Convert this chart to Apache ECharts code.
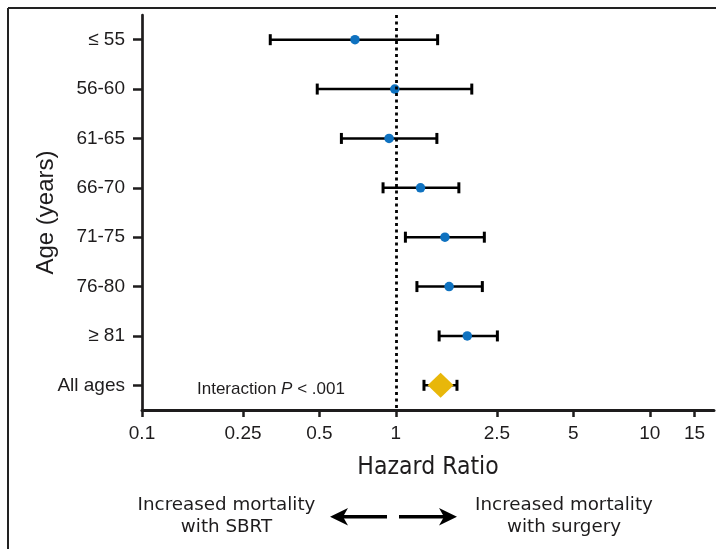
<!DOCTYPE html>
<html><head><meta charset="utf-8">
<script src="https://cdn.jsdelivr.net/npm/echarts@6/dist/echarts.min.js"></script>
<style>html,body{margin:0;padding:0;background:#fff;} #c{width:716px;height:549px;}</style>
</head><body><div id="c"></div>
<script>
// ---- data ----
const categories = ['≤ 55', '56-60', '61-65', '66-70', '71-75', '76-80', '≥ 81', 'All ages'];
const hazardRatio = [0.69, 0.99, 0.94, 1.25, 1.56, 1.62, 1.91, 1.50];
const ciLower = [0.32, 0.49, 0.61, 0.89, 1.09, 1.21, 1.48, 1.29];
const ciUpper = [1.46, 1.99, 1.45, 1.77, 2.23, 2.19, 2.51, 1.74];
const xTickValues = [0.1, 0.25, 0.5, 1, 2.5, 5, 10, 15];
const xMinValue = 0.1;
const xMaxValue = 17.9;
const referenceValue = 1;
const interactionText = ['Interaction ', 'P', ' < .001'];
const leftNote = 'Increased mortality\nwith SBRT';
const rightNote = 'Increased mortality\nwith surgery';

// ---- build ----
const L = Math.log10;
const pooledIndex = categories.length - 1;
const ink = '#1e1c1d';
const sans = "'Liberation Sans', Arial, sans-serif";
const narrow = "'Liberation Sans Narrow', 'DejaVu Sans Condensed', 'Roboto Condensed', 'Liberation Sans', sans-serif";

const ciData = categories.map((c, i) => [i, L(ciLower[i]), L(ciUpper[i])]);
const pointData = [];
categories.forEach((c, i) => { if (i !== pooledIndex) pointData.push([L(hazardRatio[i]), i]); });
const pooledData = [[L(hazardRatio[pooledIndex]), pooledIndex]];
const tickLogs = xTickValues.map(L);

const chart = echarts.init(document.getElementById('c'), null, {renderer: 'canvas'});
chart.setOption({
  animation: false,
  backgroundColor: '#fff',
  grid: {left: 142, right: 2, top: 15, bottom: 139},
  xAxis: {
    type: 'value',
    min: L(xMinValue), max: L(xMaxValue),
    name: 'Hazard Ratio', nameLocation: 'middle', nameGap: 45, nameMoveOverlap: false,
    nameTextStyle: {fontFamily: narrow, fontSize: 24.5, color: ink},
    axisLine: {show: true, onZero: false, lineStyle: {color: ink, width: 3}},
    axisTick: {show: true, length: 7, lineStyle: {color: ink, width: 2.5}, customValues: tickLogs},
    axisLabel: {
      show: true, margin: 14, fontFamily: sans, fontSize: 19, color: ink,
      customValues: tickLogs,
      formatter: v => String(parseFloat(Math.pow(10, v).toPrecision(3)))
    },
    splitLine: {show: false}
  },
  yAxis: {
    type: 'category', data: categories, inverse: true,
    name: 'Age (years)', nameLocation: 'middle', nameGap: 84, nameRotate: 90, nameMoveOverlap: false,
    nameTextStyle: {fontFamily: sans, fontSize: 24, color: ink},
    axisLine: {show: true, onZero: false, lineStyle: {color: ink, width: 2.7}},
    axisTick: {show: true, alignWithLabel: true, length: 9, lineStyle: {color: ink, width: 2.5}},
    axisLabel: {margin: 17, fontFamily: sans, fontSize: 19, color: ink},
    splitLine: {show: false}
  },
  series: [
    {
      type: 'custom', z: 2,
      data: ciData,
      encode: {x: [1, 2], y: 0},
      renderItem: function (params, api) {
        const yi = api.value(0);
        const a = api.coord([api.value(1), yi]);
        const b = api.coord([api.value(2), yi]);
        const h = 11;
        return {type: 'group', children: [
          {type: 'line', shape: {x1: a[0], y1: a[1], x2: b[0], y2: b[1]}, style: {stroke: '#000', lineWidth: 2.6}},
          {type: 'line', shape: {x1: a[0], y1: a[1] - h / 2, x2: a[0], y2: a[1] + h / 2}, style: {stroke: '#000', lineWidth: 3}},
          {type: 'line', shape: {x1: b[0], y1: b[1] - h / 2, x2: b[0], y2: b[1] + h / 2}, style: {stroke: '#000', lineWidth: 3}}
        ]};
      },
      markLine: {
        silent: true, symbol: ['none', 'none'], animation: false,
        label: {show: false},
        lineStyle: {color: '#000', width: 2.8, type: [3, 3.5]},
        data: [{xAxis: L(referenceValue)}]
      }
    },
    {
      type: 'scatter', z: 3, data: pointData,
      symbol: 'circle', symbolSize: 9.5,
      itemStyle: {color: '#0f72c0', opacity: 1}
    },
    {
      type: 'scatter', z: 4, data: pooledData,
      symbol: 'diamond', symbolSize: [26, 25],
      itemStyle: {color: '#e8b70a', opacity: 1}
    }
  ],
  graphic: [
    {type: 'line', shape: {x1: 8, y1: 8, x2: 716, y2: 8}, style: {stroke: '#222', lineWidth: 2}},
    {type: 'line', shape: {x1: 8, y1: 8, x2: 8, y2: 549}, style: {stroke: '#222', lineWidth: 2}},
    {
      type: 'text', left: 197, top: 381,
      style: {
        text: '{a|' + interactionText[0] + '}{i|' + interactionText[1] + '}{a|' + interactionText[2] + '}',
        rich: {
          a: {fontFamily: sans, fontSize: 17, fill: ink},
          i: {fontFamily: sans, fontSize: 17, fontStyle: 'italic', fill: ink}
        }
      }
    },
    {
      type: 'text', x: 226.5, y: 516,
      style: {text: leftNote, fontFamily: "'DejaVu Sans', sans-serif", fontSize: 18.3, lineHeight: 22,
        fill: ink, align: 'center', verticalAlign: 'middle'}
    },
    {
      type: 'text', x: 564, y: 516,
      style: {text: rightNote, fontFamily: "'DejaVu Sans', sans-serif", fontSize: 18.3, lineHeight: 22,
        fill: ink, align: 'center', verticalAlign: 'middle'}
    },
    {type: 'line', shape: {x1: 341, y1: 516.7, x2: 387, y2: 516.7}, style: {stroke: '#000', lineWidth: 3.5}},
    {type: 'polygon', shape: {points: [[330, 516.7], [348, 508], [343, 516.7], [348, 525.4]]}, style: {fill: '#000'}},
    {type: 'line', shape: {x1: 399, y1: 516.7, x2: 446, y2: 516.7}, style: {stroke: '#000', lineWidth: 3.5}},
    {type: 'polygon', shape: {points: [[457, 516.7], [439, 508], [444, 516.7], [439, 525.4]]}, style: {fill: '#000'}}
  ]
});
</script>
</body></html>
